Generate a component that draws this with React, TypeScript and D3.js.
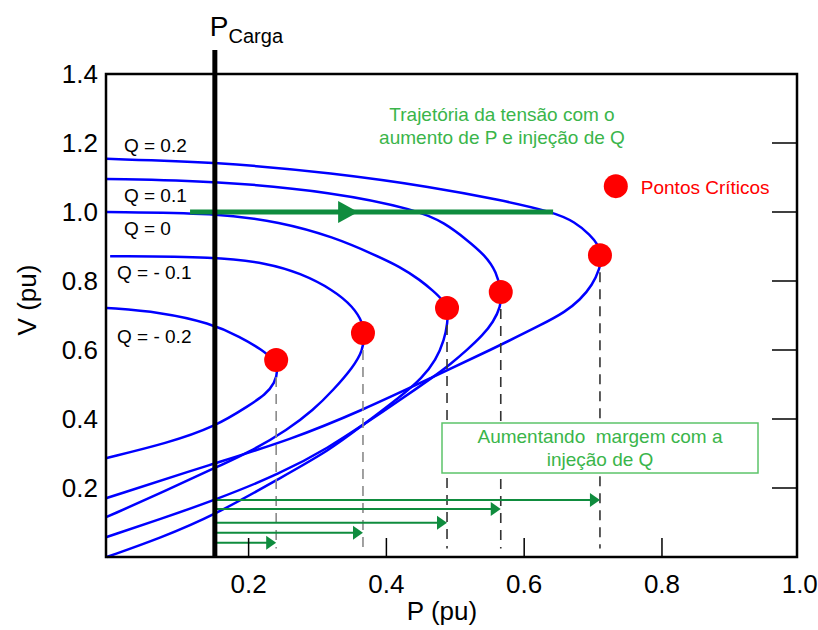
import React from "react";
import * as d3 from "d3";

// ---- data ----
const xTicks = [0.2, 0.4, 0.6, 0.8, 1.0];
const xInnerTicks = [0.2, 0.4, 0.6, 0.8];
const yTicks = [0.2, 0.4, 0.6, 0.8, 1.0, 1.2, 1.4];
const yInnerTicks = [0.2, 0.4, 0.6, 0.8, 1.0, 1.2];

const curveQp02: [number, number][] = [
  [-0.006, 1.154], [0.154, 1.145], [0.323, 1.113], [0.468, 1.072], [0.565, 1.035],
  [0.642, 1.0], [0.674, 0.971], [0.696, 0.933], [0.708, 0.904], [0.713, 0.872],
  [0.71, 0.838], [0.699, 0.788], [0.681, 0.745], [0.659, 0.71], [0.63, 0.678],
  [0.551, 0.6], [0.468, 0.522], [0.366, 0.426], [0.26, 0.339], [0.151, 0.272],
  [-0.006, 0.171],
];
const curveQp01: [number, number][] = [
  [-0.006, 1.096], [0.154, 1.09], [0.323, 1.058], [0.445, 1.006], [0.485, 0.968],
  [0.517, 0.919], [0.543, 0.875], [0.56, 0.826], [0.567, 0.768], [0.566, 0.725],
  [0.555, 0.681], [0.54, 0.643], [0.517, 0.6], [0.493, 0.559], [0.468, 0.522],
  [0.42, 0.455], [0.366, 0.383], [0.318, 0.319], [0.246, 0.241], [0.151, 0.165],
  [0.072, 0.11], [-0.006, 0.058],
];
const curveQ0: [number, number][] = [
  [-0.006, 1.0], [0.154, 0.997], [0.246, 0.971], [0.323, 0.928], [0.384, 0.875],
  [0.42, 0.841], [0.449, 0.803], [0.468, 0.771], [0.482, 0.745], [0.489, 0.716],
  [0.489, 0.681], [0.484, 0.629], [0.472, 0.571], [0.452, 0.519], [0.42, 0.464],
  [0.366, 0.383], [0.318, 0.31], [0.246, 0.229], [0.151, 0.122], [0.072, 0.055],
  [-0.006, 0.0],
];
const curveQm01: [number, number][] = [
  [-0.001, 0.872], [0.154, 0.87], [0.226, 0.852], [0.275, 0.823], [0.323, 0.774],
  [0.352, 0.725], [0.366, 0.678], [0.368, 0.643], [0.366, 0.6], [0.352, 0.551],
  [0.323, 0.484], [0.294, 0.426], [0.256, 0.368], [0.207, 0.31], [0.154, 0.261],
  [0.082, 0.194], [-0.006, 0.116],
];
const curveQm02: [number, number][] = [
  [-0.006, 0.722], [0.072, 0.71], [0.144, 0.678], [0.188, 0.638], [0.22, 0.6],
  [0.237, 0.571], [0.243, 0.542], [0.238, 0.504], [0.224, 0.47], [0.202, 0.441],
  [0.151, 0.377], [0.082, 0.33], [-0.006, 0.287],
];
const curves = [curveQp02, curveQp01, curveQ0, curveQm01, curveQm02];

const curveLabels = ["Q = 0.2", "Q = 0.1", "Q = 0", "Q = - 0.1", "Q = - 0.2"];
const curveLabelP = [0.019, 0.019, 0.019, 0.009, 0.009];
const curveLabelV = [1.173, 1.029, 0.933, 0.806, 0.62];

// critical points (P, V)
const criticalP = [0.24, 0.366, 0.488, 0.566, 0.71];
const criticalV = [0.571, 0.649, 0.722, 0.768, 0.875];
const dashColors = ["#8a8a8a", "#8a8a8a", "#333333", "#333333", "#333333"];
// margin arrows: heights (V) for each critical point
const marginArrowV = [0.041, 0.07, 0.099, 0.139, 0.165];

const pCarga = 0.151;
const trajectoryV = 1.0;
const trajectoryStart = 0.115;
const trajectoryEnd = 0.642;
const trajectoryArrowTip = 0.359;

const legendP = 0.733;
const legendV = 1.075;

export default function App() {
  const W = 818;
  const H = 630;
  const x = d3.scaleLinear().domain([-0.007, 0.996]).range([106, 797]);
  const y = d3.scaleLinear().domain([0, 1.4]).range([557, 74]);

  const line = d3
    .line<[number, number]>()
    .x((d) => x(d[0]))
    .y((d) => y(d[1]))
    .curve(d3.curveBasis);

  const font = "'Liberation Sans', Arial, Helvetica, sans-serif";
  const darkGreen = "#0f8c3e";
  const lightGreen = "#3ab54a";
  const [x0, x1] = x.range();
  const [y0, y1] = y.range();

  const tipX = x(trajectoryArrowTip);
  const tyY = y(trajectoryV);

  return (
    <svg
      width={W}
      height={H}
      style={{ position: "absolute", left: 0, top: 0, background: "#fff" }}
      fontFamily={font}
    >
      {/* curves */}
      {curves.map((c, i) => (
        <path key={i} d={line(c) || ""} fill="none" stroke="#0000ff" strokeWidth={2.5} />
      ))}

      {/* dashed verticals from critical points */}
      {criticalP.map((p, i) => (
        <line
          key={"d" + i}
          x1={x(p)}
          x2={x(p)}
          y1={y(criticalV[i])}
          y2={y(0.025)}
          stroke={dashColors[i]}
          strokeWidth={1.6}
          strokeDasharray="10,7"
        />
      ))}

      {/* margin arrows */}
      {criticalP.map((p, i) => {
        const yy = y(marginArrowV[i]);
        const xe = x(p);
        return (
          <g key={"m" + i}>
            <line x1={x(pCarga)} x2={xe - 8} y1={yy} y2={yy} stroke={darkGreen} strokeWidth={2} />
            <path d={`M${xe},${yy} L${xe - 10},${yy - 7} L${xe - 10},${yy + 7} Z`} fill={darkGreen} />
          </g>
        );
      })}

      {/* trajectory arrow */}
      <line
        x1={x(trajectoryStart)}
        x2={x(trajectoryEnd)}
        y1={tyY}
        y2={tyY}
        stroke={darkGreen}
        strokeWidth={5}
      />
      <path d={`M${tipX},${tyY} L${tipX - 20},${tyY - 11} L${tipX - 20},${tyY + 11} Z`} fill={darkGreen} />

      {/* critical point dots */}
      {criticalP.map((p, i) => (
        <circle key={"c" + i} cx={x(p)} cy={y(criticalV[i])} r={12} fill="#ff0000" />
      ))}

      {/* frame */}
      <rect x={x0} y={y1} width={x1 - x0} height={y0 - y1} fill="none" stroke="#000" strokeWidth={2.5} />

      {/* inner ticks */}
      {xInnerTicks.map((t) => (
        <line key={"xt" + t} x1={x(t)} x2={x(t)} y1={y0} y2={y0 - 19} stroke="#000" strokeWidth={1.5} />
      ))}
      {yInnerTicks.map((t) => (
        <line key={"yt" + t} x1={x1} x2={x1 - 25} y1={y(t)} y2={y(t)} stroke="#000" strokeWidth={1.5} />
      ))}

      {/* tick labels */}
      {xTicks.map((t) => (
        <text key={"xl" + t} x={x(t)} y={593} textAnchor="middle" fontSize={26} fill="#000">
          {t.toFixed(1)}
        </text>
      ))}
      {yTicks.map((t) => (
        <text key={"yl" + t} x={98} y={y(t) + 9} textAnchor="end" fontSize={26} fill="#000">
          {t.toFixed(1)}
        </text>
      ))}

      {/* axis titles */}
      <text x={442} y={620} textAnchor="middle" fontSize={26} fill="#000">
        P (pu)
      </text>
      <text
        transform={`translate(36,300) rotate(-90)`}
        textAnchor="middle"
        fontSize={26}
        fill="#000"
      >
        V (pu)
      </text>

      {/* P carga line */}
      <line x1={x(pCarga)} x2={x(pCarga)} y1={50} y2={y0} stroke="#000" strokeWidth={5} />
      <text x={x(pCarga) - 5} y={36} fontSize={28} fill="#000">
        P
        <tspan fontSize={20} dy={7}>
          Carga
        </tspan>
      </text>

      {/* curve labels */}
      {curveLabels.map((l, i) => (
        <text key={"ql" + i} x={x(curveLabelP[i])} y={y(curveLabelV[i])} fontSize={19} fill="#000">
          {l}
        </text>
      ))}

      {/* green annotation */}
      <text x={502} y={121} textAnchor="middle" fontSize={19} fill={lightGreen}>
        Trajetória da tensão com o
      </text>
      <text x={502} y={144} textAnchor="middle" fontSize={19} fill={lightGreen}>
        aumento de P e injeção de Q
      </text>

      {/* box annotation */}
      <rect x={442} y={423} width={316} height={50} fill="#fff" stroke="#5cc46a" strokeWidth={1.5} />
      <text x={600} y={443} textAnchor="middle" fontSize={19} fill={lightGreen} xmlSpace="preserve">
        Aumentando  margem com a
      </text>
      <text x={600} y={466} textAnchor="middle" fontSize={19} fill={lightGreen}>
        injeção de Q
      </text>

      {/* legend */}
      <circle cx={x(legendP)} cy={y(legendV)} r={12} fill="#ff0000" />
      <text x={x(legendP) + 25} y={y(legendV) + 8} fontSize={19} fill="#ff0000">
        Pontos Críticos
      </text>
    </svg>
  );
}
